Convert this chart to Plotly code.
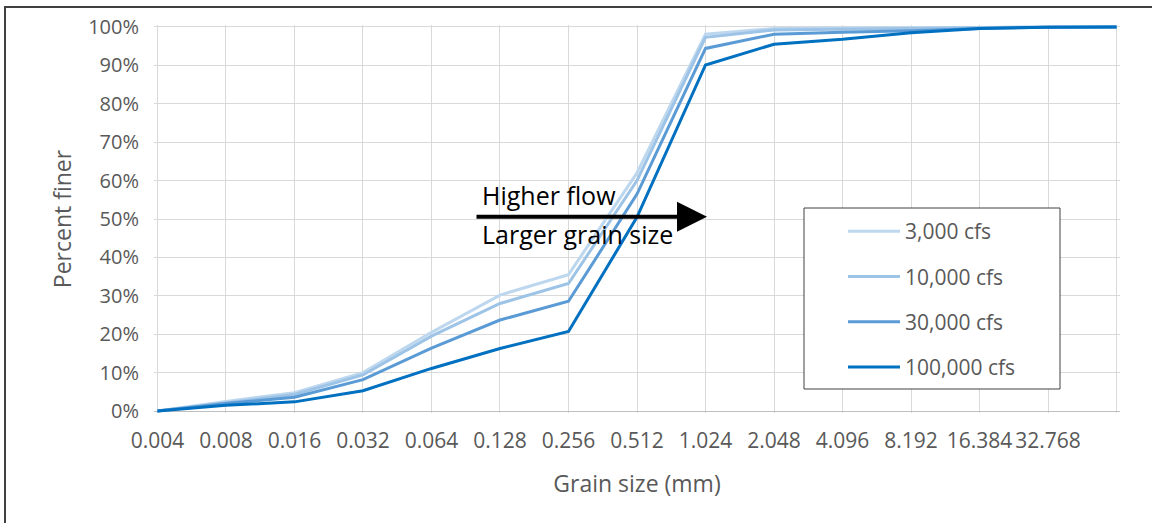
import plotly.graph_objects as go

# ---- data ----
grain_labels = ["0.004", "0.008", "0.016", "0.032", "0.064", "0.128", "0.256",
                "0.512", "1.024", "2.048", "4.096", "8.192", "16.384", "32.768", ""]
series_names = ["3,000 cfs", "10,000 cfs", "30,000 cfs", "100,000 cfs"]
finer_3k = [0, 2.5, 4.8, 10.0, 20.5, 30.2, 35.5, 62.0, 98.1, 99.6, 99.7, 99.8, 99.9, 100, 100]
finer_10k = [0, 2.2, 4.3, 9.4, 19.5, 28.0, 33.2, 60.0, 97.3, 99.2, 99.4, 99.6, 99.8, 100, 100]
finer_30k = [0, 2.0, 3.6, 8.2, 16.4, 23.7, 28.6, 56.5, 94.4, 98.1, 98.6, 99.0, 99.6, 99.9, 100]
finer_100k = [0, 1.5, 2.4, 5.3, 11.1, 16.3, 20.7, 50.5, 90.1, 95.5, 96.8, 98.5, 99.6, 99.9, 100]
y_ticks = list(range(0, 101, 10))

colors = ["#BDD7EE", "#9DC3E6", "#5B9BD5", "#0070C0"]
FONT = "Open Sans"
GREY = "#595959"

W, H = 1152, 523
L, R, T, B = 154, 32, 25, 110
pw, ph = W - L - R, H - T - B

xpos = list(range(len(grain_labels)))

fig = go.Figure()
for name, vals, col in zip(series_names, [finer_3k, finer_10k, finer_30k, finer_100k], colors):
    fig.add_trace(go.Scatter(
        x=xpos, y=vals, mode="lines", name=name, legendgroup=name,
        line=dict(color=col, width=3),
    ))

def px_x(p):
    return (p - L) / pw

def px_y(p):
    return (H - B - p) / ph

xr = [-0.05, len(grain_labels) - 1 + 0.05]
yr = [-0.5, 100.5]

def dx(p):
    return xr[0] + (p - L) / pw * (xr[1] - xr[0])

def dy(p):
    return yr[0] + (H - B - p) / ph * (yr[1] - yr[0])

fig.update_layout(
    width=W, height=H,
    margin=dict(l=L, r=R, t=T, b=B, autoexpand=False),
    paper_bgcolor="white", plot_bgcolor="white",
    font=dict(family=FONT, color=GREY),
    showlegend=True,
    legend=dict(
        x=px_x(843), y=px_y(211), xanchor="left", yanchor="top",
        bgcolor="rgba(0,0,0,0)", borderwidth=0,
        font=dict(family=FONT, size=21, color=GREY),
        tracegroupgap=15, itemwidth=52,
    ),
    xaxis=dict(
        range=xr, tickmode="array", tickvals=xpos, ticktext=grain_labels,
        tickangle=0, showgrid=True, gridcolor="#D9D9D9", gridwidth=1,
        zeroline=False, showline=False, ticks="",
        tickfont=dict(family=FONT, size=21, color=GREY),
        ticklabelstandoff=13,
        title=dict(text="Grain size (mm)", font=dict(family=FONT, size=23, color=GREY), standoff=22),
        automargin=False,
    ),
    yaxis=dict(
        range=yr, tickmode="array", tickvals=y_ticks,
        ticktext=[f"{v}%" for v in y_ticks],
        showgrid=True, gridcolor="#D9D9D9", gridwidth=1,
        zeroline=True, zerolinecolor="#BFBFBF", zerolinewidth=1,
        showline=False, ticks="",
        tickfont=dict(family=FONT, size=20, color=GREY),
        ticklabelstandoff=14,
        title=dict(text="Percent finer", font=dict(family=FONT, size=23, color=GREY), standoff=10),
        automargin=False,
    ),
    shapes=[
        # outer chart frame
        dict(type="rect", xref="paper", yref="paper",
             x0=px_x(5), x1=px_x(1165), y0=px_y(535), y1=px_y(7),
             line=dict(color="#404040", width=2), fillcolor="rgba(0,0,0,0)", layer="above"),
        # legend box
        dict(type="rect", xref="paper", yref="paper",
             x0=px_x(804), x1=px_x(1060), y0=px_y(389), y1=px_y(208),
             line=dict(color="#404040", width=1), fillcolor="white", layer="above"),
    ],
    annotations=[
        dict(x=dx(707), y=dy(216.7), ax=dx(475), ay=dy(216.7), axref="x", ayref="y",
             xref="x", yref="y", text="", showarrow=True, arrowhead=2,
             arrowwidth=4, arrowsize=1.5, arrowcolor="black"),
        dict(x=dx(480), y=dy(195), xref="x", yref="y", text="Higher flow",
             showarrow=False, xanchor="left", yanchor="middle",
             font=dict(family=FONT, size=25, color="black")),
        dict(x=dx(480), y=dy(234), xref="x", yref="y", text="Larger grain size",
             showarrow=False, xanchor="left", yanchor="middle",
             font=dict(family=FONT, size=25, color="black")),
    ],
)

fig.write_html("out.html")
